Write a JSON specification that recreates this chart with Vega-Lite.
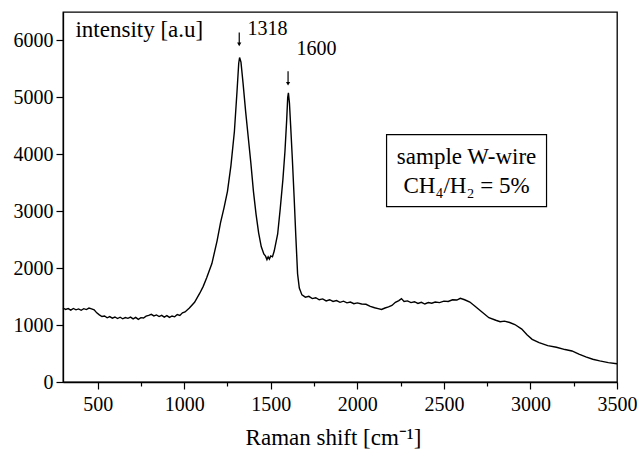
{
  "$schema": "https://vega.github.io/schema/vega-lite/v6.json",
  "width": 554,
  "height": 370,
  "autosize": "none",
  "padding": {"left": 63, "top": 12, "right": 23, "bottom": 71},
  "background": "white",
  "config": {
    "view": {"stroke": "black", "strokeWidth": 1.3},
    "font": "Liberation Serif",
    "axis": {"domainColor": "black", "tickColor": "black", "labelColor": "black", "titleColor": "black", "grid": false, "labelFont": "Liberation Serif", "titleFont": "Liberation Serif", "titleFontWeight": "normal"}
  },
  "datasets": {
    "spectrum": [
      {"x": 300, "y": 1300}, {"x": 315, "y": 1275}, {"x": 330, "y": 1290}, {"x": 345, "y": 1262}, {"x": 360, "y": 1292}, {"x": 375, "y": 1268}, {"x": 390, "y": 1284},
      {"x": 405, "y": 1260}, {"x": 420, "y": 1288}, {"x": 435, "y": 1272}, {"x": 450, "y": 1298}, {"x": 465, "y": 1285}, {"x": 480, "y": 1268},
      {"x": 495, "y": 1215}, {"x": 510, "y": 1180}, {"x": 525, "y": 1150}, {"x": 540, "y": 1160}, {"x": 555, "y": 1128}, {"x": 570, "y": 1150},
      {"x": 585, "y": 1122}, {"x": 600, "y": 1142}, {"x": 615, "y": 1115}, {"x": 630, "y": 1138}, {"x": 645, "y": 1110}, {"x": 660, "y": 1132},
      {"x": 675, "y": 1118}, {"x": 690, "y": 1140}, {"x": 705, "y": 1108}, {"x": 720, "y": 1135}, {"x": 735, "y": 1100}, {"x": 750, "y": 1130},
      {"x": 765, "y": 1125}, {"x": 780, "y": 1158}, {"x": 795, "y": 1170}, {"x": 810, "y": 1188}, {"x": 825, "y": 1160}, {"x": 840, "y": 1178},
      {"x": 855, "y": 1150}, {"x": 870, "y": 1170}, {"x": 885, "y": 1140}, {"x": 900, "y": 1165}, {"x": 915, "y": 1135}, {"x": 930, "y": 1160},
      {"x": 945, "y": 1145}, {"x": 960, "y": 1185}, {"x": 975, "y": 1170}, {"x": 990, "y": 1215},
      {"x": 1005, "y": 1230}, {"x": 1030, "y": 1300}, {"x": 1060, "y": 1400}, {"x": 1090, "y": 1560}, {"x": 1110, "y": 1680}, {"x": 1130, "y": 1830},
      {"x": 1160, "y": 2080}, {"x": 1190, "y": 2480}, {"x": 1210, "y": 2800}, {"x": 1230, "y": 3060}, {"x": 1250, "y": 3350}, {"x": 1270, "y": 3800},
      {"x": 1290, "y": 4400}, {"x": 1305, "y": 5100}, {"x": 1315, "y": 5600}, {"x": 1320, "y": 5700}, {"x": 1328, "y": 5620}, {"x": 1340, "y": 5250},
      {"x": 1355, "y": 4750}, {"x": 1370, "y": 4300}, {"x": 1385, "y": 3850}, {"x": 1400, "y": 3350}, {"x": 1415, "y": 2950}, {"x": 1430, "y": 2620},
      {"x": 1445, "y": 2380}, {"x": 1460, "y": 2250}, {"x": 1470, "y": 2210}, {"x": 1478, "y": 2150}, {"x": 1485, "y": 2200}, {"x": 1492, "y": 2160},
      {"x": 1500, "y": 2215}, {"x": 1510, "y": 2200}, {"x": 1520, "y": 2300},
      {"x": 1540, "y": 2600}, {"x": 1555, "y": 3050}, {"x": 1570, "y": 3550}, {"x": 1582, "y": 4050}, {"x": 1592, "y": 4600}, {"x": 1598, "y": 5000},
      {"x": 1602, "y": 5080}, {"x": 1608, "y": 4900}, {"x": 1615, "y": 4500}, {"x": 1625, "y": 3900}, {"x": 1635, "y": 3250}, {"x": 1645, "y": 2550},
      {"x": 1655, "y": 1900}, {"x": 1665, "y": 1650}, {"x": 1680, "y": 1530}, {"x": 1700, "y": 1490}, {"x": 1720, "y": 1505}, {"x": 1740, "y": 1465},
      {"x": 1760, "y": 1480}, {"x": 1780, "y": 1445}, {"x": 1800, "y": 1460}, {"x": 1820, "y": 1425}, {"x": 1840, "y": 1445}, {"x": 1860, "y": 1415},
      {"x": 1880, "y": 1430}, {"x": 1900, "y": 1400}, {"x": 1920, "y": 1420}, {"x": 1940, "y": 1390}, {"x": 1960, "y": 1405}, {"x": 1980, "y": 1375},
      {"x": 2000, "y": 1390}, {"x": 2025, "y": 1370}, {"x": 2050, "y": 1365}, {"x": 2075, "y": 1330}, {"x": 2100, "y": 1305},
      {"x": 2120, "y": 1290}, {"x": 2140, "y": 1275}, {"x": 2160, "y": 1300}, {"x": 2180, "y": 1320}, {"x": 2200, "y": 1345}, {"x": 2220, "y": 1400},
      {"x": 2240, "y": 1430}, {"x": 2255, "y": 1465}, {"x": 2270, "y": 1415}, {"x": 2290, "y": 1425}, {"x": 2310, "y": 1395}, {"x": 2330, "y": 1410},
      {"x": 2350, "y": 1380}, {"x": 2370, "y": 1400}, {"x": 2390, "y": 1370}, {"x": 2410, "y": 1395}, {"x": 2430, "y": 1385}, {"x": 2450, "y": 1405},
      {"x": 2475, "y": 1395}, {"x": 2500, "y": 1420}, {"x": 2525, "y": 1415}, {"x": 2550, "y": 1445}, {"x": 2575, "y": 1440}, {"x": 2595, "y": 1470},
      {"x": 2620, "y": 1445}, {"x": 2650, "y": 1405}, {"x": 2680, "y": 1330}, {"x": 2720, "y": 1230}, {"x": 2760, "y": 1130}, {"x": 2800, "y": 1085},
      {"x": 2825, "y": 1060}, {"x": 2850, "y": 1070}, {"x": 2880, "y": 1045}, {"x": 2910, "y": 1010}, {"x": 2950, "y": 930}, {"x": 2980, "y": 830},
      {"x": 3010, "y": 750}, {"x": 3050, "y": 690}, {"x": 3100, "y": 640}, {"x": 3150, "y": 610}, {"x": 3200, "y": 570}, {"x": 3240, "y": 545},
      {"x": 3280, "y": 490}, {"x": 3320, "y": 440}, {"x": 3360, "y": 400}, {"x": 3400, "y": 370}, {"x": 3450, "y": 340}, {"x": 3500, "y": 320}
    ],
    "arrows": [
      {"x": 1318, "y": 6140, "y2": 5930},
      {"x": 1600, "y": 5460, "y2": 5240}
    ],
    "labels": [
      {"x": 372, "y": 6180, "text": "intensity [a.u]", "size": 23},
      {"x": 1366, "y": 6195, "text": "1318", "size": 20},
      {"x": 1649, "y": 5843, "text": "1600", "size": 20}
    ],
    "box": [
      {"x": 2169, "x2": 3093, "y": 4347, "y2": 3080}
    ],
    "boxtext": [
      {"x": 2631, "y": 3950, "text": "sample W-wire"},
      {"x": 2631, "y": 3440, "text": "CH₄/H₂ = 5%"}
    ]
  },
  "layer": [
    {
      "data": {"name": "spectrum"},
      "mark": {"type": "line", "color": "black", "strokeWidth": 1.4, "interpolate": "linear"},
      "encoding": {
        "x": {
          "field": "x", "type": "quantitative",
          "scale": {"domain": [300, 3500], "nice": false, "zero": false},
          "axis": {
            "title": "Raman shift [cm⁻¹]", "titleFontSize": 23, "titlePadding": 12, "titleX": 270,
            "values": [500, 750, 1000, 1250, 1500, 1750, 2000, 2250, 2500, 2750, 3000, 3250, 3500],
            "labelExpr": "datum.value % 500 === 0 ? datum.value : ''",
            "labelFontSize": 20, "labelPadding": 5, "labelFlush": false, "labelOverlap": false,
            "tickSize": {"condition": {"test": "datum.value % 500 === 0", "value": 7}, "value": 4},
            "tickWidth": 1.2, "domainWidth": 1.3
          }
        },
        "y": {
          "field": "y", "type": "quantitative",
          "scale": {"domain": [0, 6500], "nice": false, "zero": true},
          "axis": {
            "title": null,
            "values": [0, 500, 1000, 1500, 2000, 2500, 3000, 3500, 4000, 4500, 5000, 5500, 6000],
            "labelExpr": "datum.value % 1000 === 0 ? datum.value : ''",
            "labelFontSize": 20, "labelPadding": 3, "labelFlush": false, "labelOverlap": false,
            "tickSize": {"condition": {"test": "datum.value % 1000 === 0", "value": 7}, "value": 4},
            "tickWidth": 1.2, "domainWidth": 1.3
          }
        }
      }
    },
    {
      "data": {"name": "arrows"},
      "mark": {"type": "rule", "color": "black", "strokeWidth": 1.2},
      "encoding": {
        "x": {"field": "x", "type": "quantitative"},
        "y": {"field": "y", "type": "quantitative"},
        "y2": {"field": "y2"}
      }
    },
    {
      "data": {"name": "arrows"},
      "mark": {"type": "point", "shape": "triangle-down", "filled": true, "color": "black", "size": 18, "opacity": 1},
      "encoding": {
        "x": {"field": "x", "type": "quantitative"},
        "y": {"field": "y2", "type": "quantitative"}
      }
    },
    {
      "data": {"name": "labels"},
      "mark": {"type": "text", "align": "left", "baseline": "middle", "color": "black", "font": "Liberation Serif"},
      "encoding": {
        "x": {"field": "x", "type": "quantitative"},
        "y": {"field": "y", "type": "quantitative"},
        "text": {"field": "text"},
        "size": {"field": "size", "type": "quantitative", "scale": null, "legend": null}
      }
    },
    {
      "data": {"name": "box"},
      "mark": {"type": "rect", "fill": "white", "stroke": "black", "strokeWidth": 1.2},
      "encoding": {
        "x": {"field": "x", "type": "quantitative"},
        "x2": {"field": "x2"},
        "y": {"field": "y", "type": "quantitative"},
        "y2": {"field": "y2"}
      }
    },
    {
      "data": {"name": "boxtext"},
      "mark": {"type": "text", "align": "center", "baseline": "middle", "color": "black", "font": "Liberation Serif", "fontSize": 23},
      "encoding": {
        "x": {"field": "x", "type": "quantitative"},
        "y": {"field": "y", "type": "quantitative"},
        "text": {"field": "text"}
      }
    }
  ]
}
